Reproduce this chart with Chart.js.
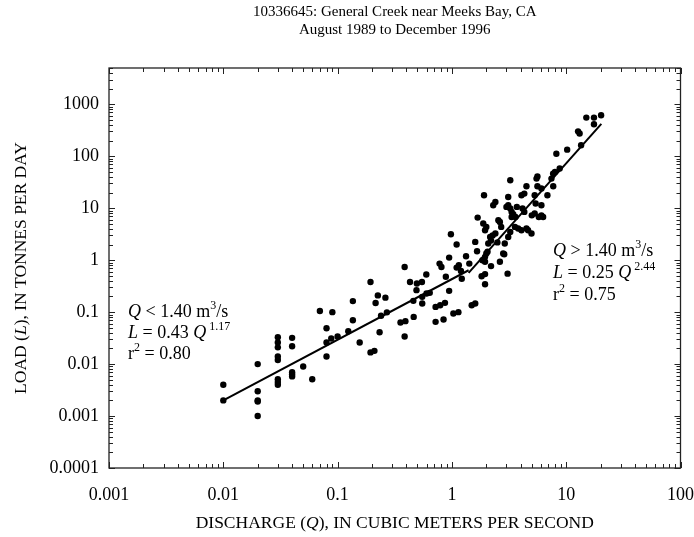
<!DOCTYPE html>
<html>
<head>
<meta charset="utf-8">
<script src="https://cdn.jsdelivr.net/npm/chart.js@4.4.0/dist/chart.umd.min.js"></script>
<style>
  html, body { margin: 0; padding: 0; background: #fff; }
  #wrap { width: 694px; height: 537px; }
</style>
</head>
<body>
<div id="wrap"><canvas id="loadChart" width="694" height="537"></canvas></div>
<script>
const dischargeQ = [
  0.01, 0.01, 0.02, 0.02, 0.02, 0.02, 0.02,
  0.03, 0.03, 0.03, 0.03, 0.03, 0.03, 0.03, 0.03,
  0.04, 0.04, 0.04, 0.04, 0.04,
  0.05, 0.06, 0.07, 0.09, 0.08, 0.08, 0.08, 0.088, 0.1, 0.124,
  0.136, 0.136, 0.156, 0.194, 0.194, 0.21, 0.215, 0.225, 0.233, 0.24,
  0.262, 0.27, 0.355, 0.392, 0.386, 0.386, 0.43, 0.463, 0.46, 0.494,
  0.547, 0.49, 0.55, 0.55, 0.597, 0.6, 0.64, 0.72, 0.845, 0.72,
  0.79, 0.87, 0.78, 0.81, 0.946, 0.885, 0.946, 1.03, 1.14, 1.1,
  1.15, 1.22, 1.2, 1.33, 1.42, 1.49, 1.6, 1.66, 1.82, 1.95,
  1.95, 1.85, 1.95, 2.0, 2.05, 2.2, 2.63, 2.87, 3.07,
  0.98, 1.1, 1.6, 1.68, 1.95, 1.88, 2.0, 1.95, 1.91, 2.08,
  2.16, 2.27, 2.4, 2.3, 2.4, 2.2, 2.5, 2.55, 2.63, 2.7,
  2.81, 2.9, 3.11, 3.24, 3.0, 3.11, 3.24, 3.24, 3.11, 3.33,
  3.33, 3.44, 3.56, 3.8, 4.06, 4.49, 4.64, 3.6, 3.7, 4.06,
  4.3, 4.15, 4.3, 4.49, 4.97, 5.0, 5.3, 5.3, 5.4, 5.5,
  5.6, 5.76, 6.07, 6.28, 5.6, 6.07, 6.07, 6.85, 7.43, 7.68,
  7.97, 7.7, 8.77, 8.2, 10.2, 12.7, 13.1, 13.5, 15, 17.5,
  20.2, 17.5
];
const loadL = [
  0.004, 0.002, 0.01, 0.003, 0.002, 0.0019, 0.001,
  0.033, 0.026, 0.021, 0.014, 0.012, 0.0051, 0.0045, 0.004,
  0.032, 0.022, 0.007, 0.0064, 0.0058,
  0.009, 0.0051, 0.105, 0.1, 0.049, 0.026, 0.014, 0.031, 0.034, 0.043,
  0.163, 0.07, 0.026, 0.38, 0.0168, 0.018, 0.15, 0.21, 0.041, 0.085,
  0.19, 0.099, 0.063, 0.067, 0.034, 0.74, 0.38, 0.081, 0.165, 0.356,
  0.38, 0.265, 0.197, 0.147, 0.53, 0.229, 0.235, 0.065, 0.072, 0.126,
  0.136, 0.151, 0.86, 0.74, 1.12, 0.48, 0.257, 0.094, 0.1, 0.72,
  0.8, 0.44, 0.62, 1.19, 0.86, 0.136, 0.147, 1.49, 0.49, 0.54,
  0.345, 1.0, 0.93, 1.35, 1.45, 0.77, 0.93, 1.3, 0.55,
  3.16, 2.0, 2.25, 6.6, 1.16, 5.07, 4.37, 3.78, 17.8, 2.09,
  2.8, 3.0, 3.26, 11.4, 13.2, 2.4, 2.2, 5.9, 5.45, 4.37,
  1.35, 2.09, 2.8, 3.5, 10.6, 11.4, 9.9, 34.5, 16.5, 6.8,
  8.5, 7.7, 4.37, 4.07, 3.78, 4.07, 3.78, 6.8, 10.6, 17.8,
  19.1, 9.9, 8.5, 26.5, 3.26, 7.3, 7.9, 17.8, 12.3, 37.2,
  41, 6.8, 7.3, 6.8, 26.5, 23.9, 11.4, 17.8, 37.2, 46.4,
  50, 26.5, 58, 112, 134, 302, 274, 163, 555, 555,
  615, 412
];

// end points of the two fitted lines
const lowFitQ = [0.01, 1.4];
const lowFitL = [0.002, 0.64];
const highFitQ = [1.4, 20.3];
const highFitL = [0.57, 420];

const xTickValues = [0.001, 0.01, 0.1, 1, 10, 100];
const xTickLabels = ['0.001', '0.01', '0.1', '1', '10', '100'];
const yTickValues = [0.0001, 0.001, 0.01, 0.1, 1, 10, 100, 1000];
const yTickLabels = ['0.0001', '0.001', '0.01', '0.1', '1', '10', '100', '1000'];

const titleLines = ['10336645: General Creek near Meeks Bay, CA', 'August 1989 to December 1996'];

const SERIF = '"Liberation Serif", "Times New Roman", serif';

function pairs(xs, ys) {
  return xs.map((x, i) => ({ x: x, y: ys[i] }));
}

// draws a line of text made of runs: [text, 'n' | 'i' | 's']
function drawRuns(ctx, runs, x, y, size, align) {
  const fontFor = s => (s === 'i' ? 'italic ' : '') + (s === 's' ? Math.round(size * 0.65) : size) + 'px ' + SERIF;
  let total = 0;
  runs.forEach(r => { ctx.font = fontFor(r[1]); total += ctx.measureText(r[0]).width; });
  let cx = align === 'center' ? x - total / 2 : x;
  ctx.textAlign = 'left';
  ctx.textBaseline = 'alphabetic';
  runs.forEach(r => {
    ctx.font = fontFor(r[1]);
    ctx.fillText(r[0], cx, r[1] === 's' ? y - size * 0.42 : y);
    cx += ctx.measureText(r[0]).width;
  });
}

function tickValues(min, max) {
  let vals = [];
  for (let d = -5; d <= 4; d++) {
    for (let m = 1; m <= 9; m++) {
      let v = Number((m * Math.pow(10, d)).toPrecision(6));
      if (v >= min && v <= max) vals.push({ v: v, major: m === 1 });
    }
  }
  return vals;
}

const framePlugin = {
  id: 'frame',
  afterDatasetsDraw(chart) {
    const ctx = chart.ctx;
    const a = chart.chartArea;
    const xs = chart.scales.x, ys = chart.scales.y;
    ctx.save();
    ctx.strokeStyle = '#222';
    ctx.lineWidth = 1.3;
    ctx.strokeRect(a.left, a.top, a.right - a.left, a.bottom - a.top);
    ctx.lineWidth = 1;
    ctx.beginPath();
    tickValues(xs.min, xs.max).forEach(t => {
      const px = Math.round(xs.getPixelForValue(t.v)) + 0.5;
      const len = t.major ? 6 : 4;
      ctx.moveTo(px, a.bottom); ctx.lineTo(px, a.bottom - len);
      ctx.moveTo(px, a.top); ctx.lineTo(px, a.top + len);
    });
    tickValues(ys.min, ys.max).forEach(t => {
      const py = Math.round(ys.getPixelForValue(t.v)) + 0.5;
      const len = t.major ? 6 : 4;
      ctx.moveTo(a.left, py); ctx.lineTo(a.left + len, py);
      ctx.moveTo(a.right, py); ctx.lineTo(a.right - len, py);
    });
    ctx.stroke();
    ctx.restore();
  },
  afterDraw(chart) {
    const ctx = chart.ctx;
    const a = chart.chartArea;
    ctx.save();
    ctx.fillStyle = '#000';
    // axis titles
    drawRuns(ctx, [['DISCHARGE (', 'n'], ['Q', 'i'], ['), IN CUBIC METERS PER SECOND', 'n']],
      (a.left + a.right) / 2, 528, 17.5, 'center');
    ctx.save();
    ctx.translate(20, (a.top + a.bottom) / 2);
    ctx.rotate(-Math.PI / 2);
    drawRuns(ctx, [['LOAD (', 'n'], ['L', 'i'], ['), IN TONNES PER DAY', 'n']], 0, 6, 17.5, 'center');
    ctx.restore();
    // regression notes
    const fs = 18;
    drawRuns(ctx, [['Q', 'i'], [' < 1.40 m', 'n'], ['3', 's'], ['/s', 'n']], 128, 317, fs, 'left');
    drawRuns(ctx, [['L', 'i'], [' = 0.43 ', 'n'], ['Q', 'i'], [' 1.17', 's']], 128, 338, fs, 'left');
    drawRuns(ctx, [['r', 'n'], ['2', 's'], [' = 0.80', 'n']], 128, 359, fs, 'left');
    drawRuns(ctx, [['Q', 'i'], [' > 1.40 m', 'n'], ['3', 's'], ['/s', 'n']], 553, 256, fs, 'left');
    drawRuns(ctx, [['L', 'i'], [' = 0.25 ', 'n'], ['Q', 'i'], [' 2.44', 's']], 553, 278, fs, 'left');
    drawRuns(ctx, [['r', 'n'], ['2', 's'], [' = 0.75', 'n']], 553, 300, fs, 'left');
    ctx.restore();
  }
};

new Chart(document.getElementById('loadChart'), {
  type: 'scatter',
  data: {
    datasets: [
      {
        label: 'Samples',
        data: pairs(dischargeQ, loadL),
        pointRadius: 3.2,
        pointBackgroundColor: '#000',
        pointBorderWidth: 0,
        order: 2
      },
      {
        type: 'line',
        label: 'Q < 1.40',
        data: pairs(lowFitQ, lowFitL),
        borderColor: '#000',
        borderWidth: 2,
        pointRadius: 0,
        fill: false,
        order: 1
      },
      {
        type: 'line',
        label: 'Q > 1.40',
        data: pairs(highFitQ, highFitL),
        borderColor: '#000',
        borderWidth: 2,
        pointRadius: 0,
        fill: false,
        order: 1
      }
    ]
  },
  options: {
    responsive: false,
    animation: false,
    devicePixelRatio: 1,
    layout: { padding: { left: 0, right: 0, top: 0, bottom: 0 } },
    plugins: {
      legend: { display: false },
      tooltip: { enabled: false },
      title: {
        display: true,
        fullSize: false,
        text: titleLines,
        color: '#000',
        font: { family: SERIF, size: 15, weight: 'normal', lineHeight: 1.2 },
        padding: { top: 3, bottom: 29 }
      }
    },
    scales: {
      x: {
        type: 'logarithmic',
        min: 0.001,
        max: 100,
        // tick marks are drawn by the frame plugin; tickLength only spaces the labels
        grid: { display: false, drawTicks: true, tickLength: 16 },
        border: { display: false },
        afterBuildTicks: s => { s.ticks = xTickValues.map(v => ({ value: v })); },
        afterFit: s => { s.height = 69; },
        ticks: {
          autoSkip: false,
          maxRotation: 0,
          padding: 0,
          color: '#000',
          font: { family: SERIF, size: 18 },
          callback: (v, i) => xTickLabels[i]
        }
      },
      y: {
        type: 'logarithmic',
        min: 0.0001,
        max: 5000,
        grid: { display: false, drawTicks: false },
        border: { display: false },
        afterBuildTicks: s => { s.ticks = yTickValues.map(v => ({ value: v })); },
        afterFit: s => { s.width = 109; },
        ticks: {
          autoSkip: false,
          padding: 10,
          color: '#000',
          font: { family: SERIF, size: 18 },
          callback: (v, i) => yTickLabels[i]
        }
      }
    }
  },
  plugins: [framePlugin]
});
</script>
</body>
</html>
